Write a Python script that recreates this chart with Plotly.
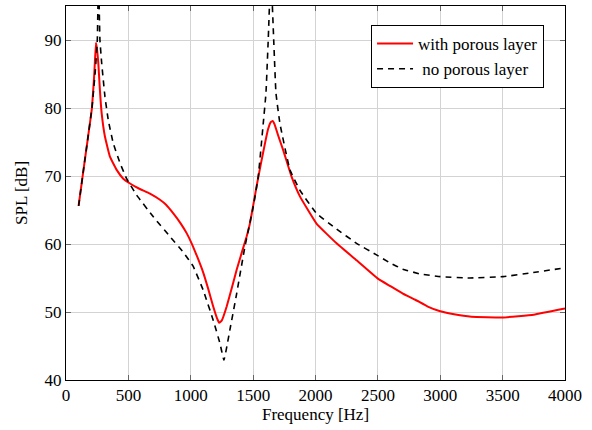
import plotly.graph_objects as go

# Frequency [Hz] and SPL [dB]
freq_with = [101, 144, 174, 208, 227, 240, 249, 259, 272, 286, 312, 353, 406, 459, 513,
             580, 673, 753, 800, 860, 920, 967, 1007, 1050, 1100, 1140, 1180, 1210, 1228, 1250,
             1288, 1330, 1368, 1410, 1448, 1474, 1500, 1528, 1560, 1595, 1620, 1640, 1656, 1672, 1700,
             1741, 1808, 1875, 2008, 2169, 2329, 2500, 2600, 2700, 2800, 2900, 3000, 3100, 3250, 3500, 3750, 4000]
spl_with = [65.6, 71.4, 75.4, 80.0, 85.1, 89.6, 88.6, 86.6, 82.6, 79.2, 75.8, 72.8, 70.9, 69.6, 68.9,
            68.2, 67.4, 66.5, 65.8, 64.5, 63.0, 61.6, 60.1, 58.2, 55.8, 53.4, 50.8, 49.1, 48.4, 48.8,
            50.8, 53.6, 56.2, 58.8, 61.1, 63.0, 65.6, 68.5, 71.6, 74.8, 76.9, 77.9, 78.1, 77.6, 76.0,
            73.8, 69.9, 67.0, 63.0, 60.1, 57.6, 54.9, 53.8, 52.7, 51.8, 50.8, 50.1, 49.7, 49.3, 49.2, 49.6, 50.5]

freq_no = [101, 144, 174, 208, 235, 251, 256, 261, 266, 272, 286, 312, 339, 379, 433, 486, 566, 700, 833,
           940, 1020, 1100, 1180, 1234, 1266, 1290, 1314, 1368, 1434, 1501, 1541, 1581, 1603, 1621,
           1642, 1665, 1683, 1715, 1795, 1875, 2008, 2169, 2329, 2489, 2600, 2700, 2837, 3000, 3237,
           3504, 3745, 4000]
spl_no = [65.6, 71.4, 75.4, 80.0, 85.5, 90.0, 95.0, 99.0, 95.0, 90.0, 86.6, 81.7, 78.2, 74.8, 71.9, 69.6, 67.2, 64.0, 61.1,
          58.8, 56.7, 53.2, 48.8, 45.4, 42.9, 45.0, 47.4, 52.7, 59.6, 65.5, 69.9, 77.7, 82.2, 90.0,
          100.0, 90.0, 82.2, 77.7, 70.9, 67.9, 64.5, 62.2, 60.1, 58.4, 57.2, 56.3, 55.6, 55.2, 55.0,
          55.2, 55.8, 56.5]

x_ticks = [0, 500, 1000, 1500, 2000, 2500, 3000, 3500, 4000]
y_ticks = [40, 50, 60, 70, 80, 90]

FONT = "Liberation Serif"

fig = go.Figure()
fig.add_trace(go.Scatter(x=freq_with, y=spl_with, mode="lines", name="with porous layer",
                         line=dict(color="#ff0000", width=2, shape="spline", smoothing=0.3)))
fig.add_trace(go.Scatter(x=freq_no, y=spl_no, mode="lines", name="\u00a0no porous layer",
                         line=dict(color="black", width=1.6, dash="6px,5px", shape="spline", smoothing=0.3)))

axis_common = dict(showline=True, linecolor="black", linewidth=1, mirror="allticks",
                   ticks="inside", ticklen=5, tickcolor="#666666", tickwidth=1,
                   showgrid=True, gridcolor="#d3d3d3", gridwidth=1, zeroline=False,
                   tickfont=dict(family=FONT, size=17, color="black"))

fig.update_xaxes(range=[0, 4000], tickvals=x_ticks, ticktext=[str(v) for v in x_ticks],
                 title=dict(text="Frequency [Hz]", font=dict(family=FONT, size=17, color="black"), standoff=3),
                 **axis_common)
fig.update_yaxes(range=[40, 95], tickvals=y_ticks, ticktext=[str(v) for v in y_ticks],
                 title=dict(text="SPL [dB]", font=dict(family=FONT, size=17, color="black"), standoff=12),
                 **axis_common)

fig.update_layout(
    width=592, height=430,
    margin=dict(l=66, r=27, t=6, b=50),
    paper_bgcolor="white", plot_bgcolor="white",
    font=dict(family=FONT, size=17, color="black"),
    showlegend=True,
    legend=dict(x=0.958, y=0.949, xanchor="right", yanchor="top",
                bgcolor="white", bordercolor="black", borderwidth=1,
                font=dict(family=FONT, size=17, color="black"),
                tracegroupgap=0, itemwidth=36),
)

fig.write_html("out.html", config={"displayModeBar": False},
               post_script="document.body.style.margin='0';document.body.style.padding='0';")
